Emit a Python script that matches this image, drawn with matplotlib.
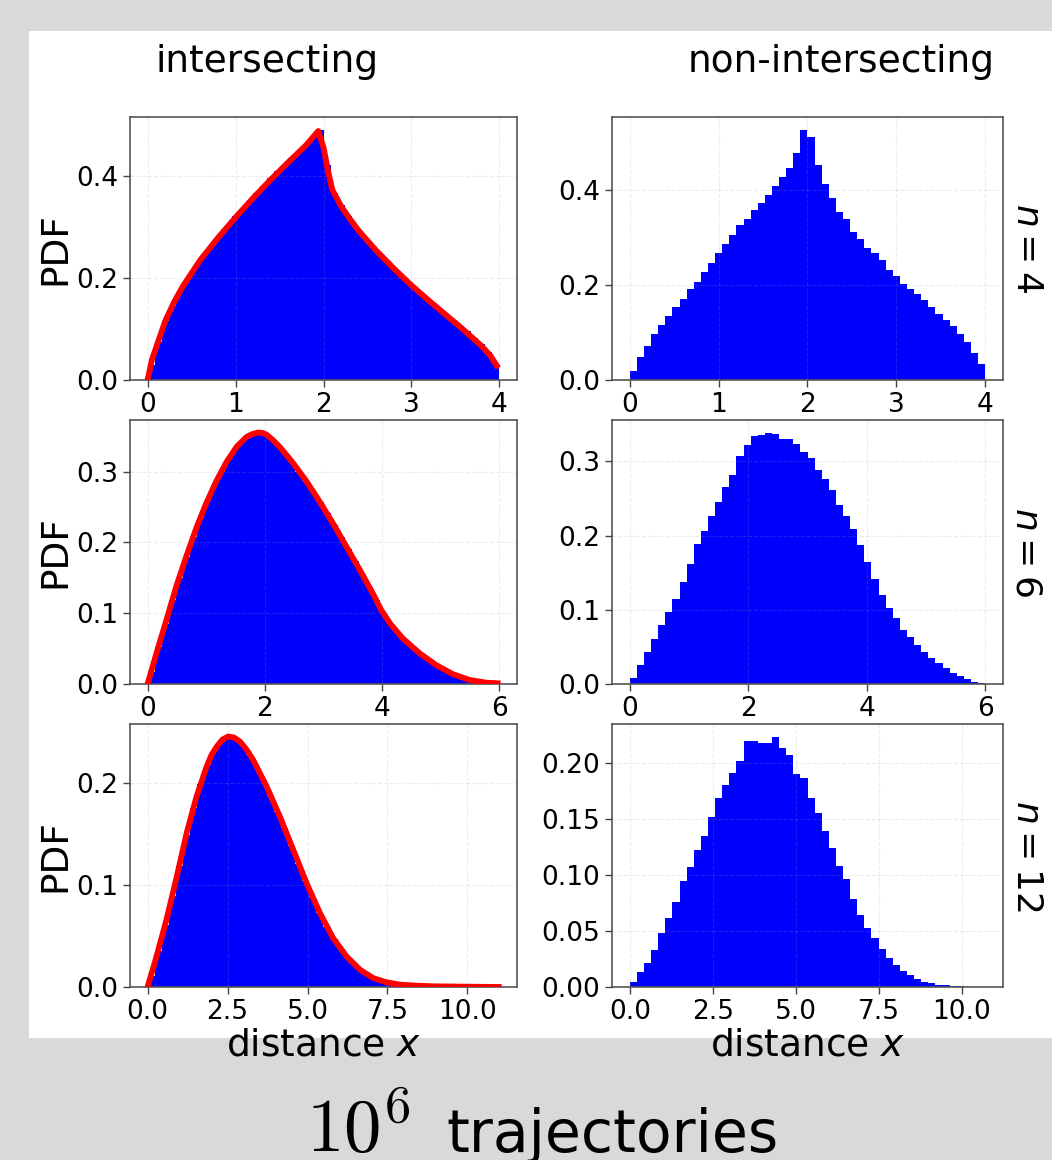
import numpy as np
from matplotlib import pyplot as plt
from matplotlib.patches import Rectangle

# histogram heights (50 bins each)
nonint_n4 = [0.020, 0.048, 0.072, 0.096, 0.116, 0.135, 0.153, 0.170, 0.192, 0.206,
             0.228, 0.246, 0.267, 0.287, 0.306, 0.326, 0.339, 0.359, 0.374, 0.389,
             0.408, 0.428, 0.446, 0.479, 0.528, 0.512, 0.453, 0.413, 0.383, 0.354,
             0.340, 0.312, 0.298, 0.278, 0.267, 0.253, 0.232, 0.220, 0.203, 0.191,
             0.181, 0.168, 0.154, 0.140, 0.127, 0.114, 0.096, 0.080, 0.056, 0.033]
nonint_n6 = [0.0076, 0.0256, 0.0427, 0.0603, 0.0796, 0.0972, 0.115, 0.137, 0.162, 0.189,
             0.206, 0.226, 0.245, 0.265, 0.282, 0.307, 0.322, 0.335, 0.336, 0.339,
             0.337, 0.331, 0.331, 0.324, 0.313, 0.305, 0.289, 0.277, 0.261, 0.242,
             0.226, 0.209, 0.187, 0.165, 0.141, 0.120, 0.103, 0.0886, 0.0729, 0.063,
             0.0526, 0.0436, 0.0346, 0.0279, 0.0211, 0.0153, 0.0108, 0.0063, 0.0031, 0.0013]
nonint_n12 = [0.0041, 0.013, 0.0216, 0.0326, 0.048, 0.0616, 0.0759, 0.0945, 0.1067, 0.122,
              0.135, 0.152, 0.169, 0.180, 0.191, 0.202, 0.219, 0.219, 0.2175, 0.2175,
              0.2234, 0.2136, 0.207, 0.190, 0.186, 0.169, 0.155, 0.139, 0.124, 0.108,
              0.0963, 0.0785, 0.0643, 0.0527, 0.0441, 0.0341, 0.0258, 0.0196, 0.0145, 0.0107,
              0.0071, 0.0047, 0.0033, 0.0021, 0.0015, 0.0009, 0.0006, 0.0003, 0.0002, 0.0001]

int_n4 = [0.030, 0.075, 0.115, 0.145, 0.172, 0.194, 0.215, 0.235, 0.253, 0.270,
          0.287, 0.303, 0.320, 0.335, 0.350, 0.365, 0.380, 0.395, 0.408, 0.421,
          0.434, 0.447, 0.460, 0.475, 0.490, 0.420, 0.365, 0.343, 0.320, 0.300,
          0.283, 0.267, 0.252, 0.238, 0.224, 0.211, 0.198, 0.186, 0.174, 0.162,
          0.150, 0.139, 0.128, 0.117, 0.106, 0.095, 0.083, 0.070, 0.055, 0.032]
int_n6 = [0.017, 0.052, 0.085, 0.118, 0.150, 0.180, 0.208, 0.234, 0.258, 0.281,
          0.300, 0.318, 0.332, 0.343, 0.351, 0.355, 0.353, 0.347, 0.338, 0.326,
          0.314, 0.300, 0.287, 0.272, 0.257, 0.241, 0.224, 0.207, 0.190, 0.173,
          0.155, 0.137, 0.118, 0.100, 0.085, 0.073, 0.062, 0.053, 0.045, 0.037,
          0.030, 0.024, 0.018, 0.013, 0.009, 0.006, 0.004, 0.0025, 0.0015, 0.0008]
int_n12 = [0.011, 0.035, 0.061, 0.089, 0.119, 0.149, 0.176, 0.199, 0.218, 0.232,
           0.241, 0.246, 0.244, 0.238, 0.228, 0.217, 0.203, 0.188, 0.172, 0.156,
           0.138, 0.121, 0.104, 0.088, 0.073, 0.059, 0.047, 0.037, 0.028, 0.021,
           0.015, 0.011, 0.0078, 0.0055, 0.0038, 0.0026, 0.0018, 0.0012, 0.0008, 0.0005,
           0.0003, 0.0002, 0.0001, 0.0001, 0.0, 0.0, 0.0, 0.0, 0.0, 0.0]

# theory curves (red) for the intersecting case
curve_n4_x = [0, 0.05, 0.1, 0.2, 0.3, 0.4, 0.6, 0.8, 1.0, 1.2, 1.4, 1.6, 1.8, 1.94,
              2.0, 2.05, 2.1, 2.2, 2.3, 2.4, 2.6, 2.8, 3.0, 3.2, 3.4, 3.6, 3.8, 3.9, 3.97]
curve_n4_y = [0, 0.04, 0.065, 0.115, 0.152, 0.183, 0.235, 0.278, 0.318, 0.356, 0.392,
              0.426, 0.459, 0.487, 0.455, 0.41, 0.372, 0.34, 0.315, 0.292, 0.253, 0.218,
              0.185, 0.155, 0.126, 0.097, 0.066, 0.047, 0.028]
curve_n6_x = [0, 0.15, 0.32, 0.49, 0.66, 0.83, 1.0, 1.17, 1.35, 1.52, 1.69, 1.79, 1.88,
              1.96, 2.03, 2.13, 2.25, 2.48, 2.71, 2.93, 3.16, 3.39, 3.62, 3.84, 3.98,
              4.13, 4.35, 4.64, 4.92, 5.2, 5.49, 5.77, 5.97]
curve_n6_y = [0, 0.043, 0.09, 0.138, 0.18, 0.22, 0.255, 0.286, 0.314, 0.335, 0.349,
              0.353, 0.355, 0.3545, 0.352, 0.345, 0.335, 0.312, 0.286, 0.258, 0.227,
              0.194, 0.161, 0.128, 0.105, 0.086, 0.0645, 0.0433, 0.0268, 0.0141,
              0.0057, 0.0019, 0.001]
curve_n12_x = [0, 0.28, 0.59, 0.91, 1.22, 1.53, 1.84, 2.0, 2.16, 2.34, 2.52, 2.7, 2.89,
               3.1, 3.3, 3.72, 4.14, 4.55, 4.97, 5.39, 5.8, 6.22, 6.64, 7.05, 7.47,
               7.89, 8.4, 8.93, 9.97, 10.98]
curve_n12_y = [0, 0.03, 0.066, 0.108, 0.151, 0.187, 0.216, 0.228, 0.236, 0.243, 0.246,
               0.245, 0.241, 0.233, 0.223, 0.197, 0.167, 0.135, 0.102, 0.0725, 0.048,
               0.030, 0.017, 0.0088, 0.0046, 0.0023, 0.0013, 0.0007, 0.0003, 0.0]

int_xmax = [4, 6, 11]
nonint_xmax = [4, 6, 10.7]
row_labels = ['$n = 4$', '$n = 6$', '$n = 12$']
col_titles = ['intersecting', 'non-intersecting']
xticks = [[0, 1, 2, 3, 4], [0, 2, 4, 6], [0, 2.5, 5, 7.5, 10]]
int_yticks = [[0.0, 0.2, 0.4], [0.0, 0.1, 0.2, 0.3], [0.0, 0.1, 0.2]]
nonint_yticks = [[0.0, 0.2, 0.4], [0.0, 0.1, 0.2, 0.3], [0.0, 0.05, 0.10, 0.15, 0.20]]

W, H = 1052, 1160


def box(l, t, r, b):
    # pixel box -> figure fraction
    return [l / W, (H - b) / H, (r - l) / W, (b - t) / H]


def style(ax, xt, yt, fmt):
    ax.set_xticks(xt)
    ax.set_yticks(yt)
    ax.set_yticklabels([fmt % v for v in yt])
    if isinstance(xt[1], float):
        ax.set_xticklabels(['%.1f' % v for v in xt])
    ax.tick_params(labelsize=19, width=1, length=5, color='#444444')
    for s in ax.spines.values():
        s.set_color('#555555')
        s.set_linewidth(1.2)
    # faint dashed grid, shows through the bars a little
    ax.grid(True, linestyle='--', color='#a0a0a0', alpha=0.2, linewidth=0.8)
    ax.set_axisbelow(False)


def plot_results():
    fig = plt.figure(figsize=(W / 100, H / 100), dpi=100, facecolor='#d9d9d9')
    fig.patches.append(Rectangle((29 / W, (H - 1038) / H), 1 - 29 / W, 1007 / H,
                                 transform=fig.transFigure, facecolor='white',
                                 edgecolor='none', zorder=-10))
    rows = [(117, 380), (420, 684), (724, 987)]
    ints = [int_n4, int_n6, int_n12]
    curves = [(curve_n4_x, curve_n4_y), (curve_n6_x, curve_n6_y),
              (curve_n12_x, curve_n12_y)]
    nonints = [nonint_n4, nonint_n6, nonint_n12]
    for i, (t, b) in enumerate(rows):
        # intersecting: histogram + red curve
        ax = fig.add_axes(box(130, t, 517, b))
        edges = np.linspace(0, int_xmax[i], 51)
        ax.hist(edges[:-1], bins=edges, weights=ints[i], color='blue')
        ax.plot(curves[i][0], curves[i][1], color='red', lw=4.2, zorder=3,
                solid_joinstyle='round')
        style(ax, xticks[i], int_yticks[i], '%.1f')
        ax.set_ylabel('PDF', fontsize=27, labelpad=2)
        if i == 2:
            ax.set_xlabel('distance $x$', fontsize=27, labelpad=2)
        # non-intersecting: histogram only
        ax = fig.add_axes(box(612, t, 1003, b))
        edges = np.linspace(0, nonint_xmax[i], 51)
        ax.hist(edges[:-1], bins=edges, weights=nonints[i], color='blue')
        style(ax, xticks[i], nonint_yticks[i], '%.2f' if i == 2 else '%.1f')
        if i == 2:
            ax.set_xlabel('distance $x$', fontsize=27, labelpad=2)
        fig.text(1027 / W, 1 - (t + b) / 2 / H, row_labels[i], rotation=270,
                 fontsize=26, ha='center', va='center')
    fig.text(267 / W, 1 - 72 / H, col_titles[0], fontsize=27, ha='center',
             va='baseline')
    fig.text(841 / W, 1 - 72 / H, col_titles[1], fontsize=27, ha='center',
             va='baseline')
    fig.text(306 / W, 1 - 1152 / H, '$10^6$', fontsize=54, math_fontfamily='cm',
             ha='left', va='baseline')
    fig.text(446 / W, 1 - 1152 / H, 'trajectories', fontsize=42, ha='left',
             va='baseline')
    fig.savefig('out.png', dpi=100, facecolor=fig.get_facecolor())


if __name__ == '__main__':
    plot_results()
